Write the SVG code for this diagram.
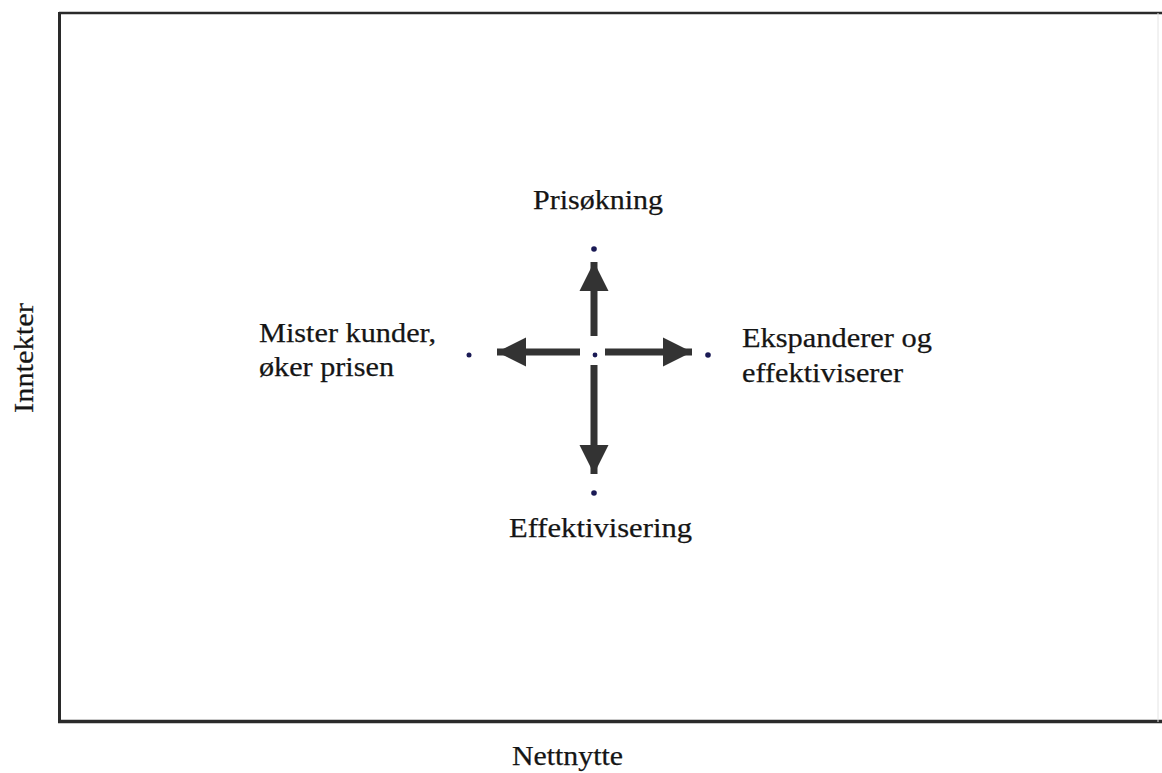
<svg xmlns="http://www.w3.org/2000/svg" width="1162" height="773" viewBox="0 0 1162 773">
  <defs>
    <style>
      .lbl { font-family: "Liberation Serif", "Times New Roman", serif; font-size: 28px; fill: #151515; stroke: #151515; stroke-width: 0.25; }
      .axis { stroke: #2a2a2a; fill: none; }
      .shaft { stroke: #333; stroke-width: 7; fill: none; }
      .dot { fill: #1a1a55; }
    </style>
    <marker id="head" viewBox="0 0 10 10" refX="10" refY="5" markerWidth="4.2" markerHeight="4.2" markerUnits="strokeWidth" orient="auto">
      <path d="M0,0 L10,5 L0,10 Z" fill="#333"/>
    </marker>
  </defs>

  <rect width="1162" height="773" fill="#ffffff"/>

  <!-- plot frame -->
  <g id="frame">
    <line class="axis" x1="59" y1="13" x2="1162" y2="13" stroke-width="2.5" stroke="#555"/>
    <line class="axis" x1="59.5" y1="12" x2="59.5" y2="723" stroke-width="3"/>
    <line class="axis" x1="58" y1="721.5" x2="1162" y2="721.5" stroke-width="3.5" stroke="#1a1a1a"/>
    <line x1="1158" y1="13" x2="1158" y2="722" stroke="#e4e4e4" stroke-width="1"/>
  </g>

  <!-- axis titles -->
  <g id="axis-x"><text class="lbl" x="512" y="765" textLength="111" lengthAdjust="spacingAndGlyphs">Nettnytte</text></g>
  <g id="axis-y"><text class="lbl" transform="translate(33,413) rotate(-90)" x="0" y="0" textLength="110" lengthAdjust="spacingAndGlyphs">Inntekter</text></g>

  <!-- arrows from the centre point -->
  <g id="connectors">
    <line class="shaft" x1="594" y1="336" x2="594" y2="262" marker-end="url(#head)"/>
    <line class="shaft" x1="594" y1="365" x2="594" y2="474" marker-end="url(#head)"/>
    <line class="shaft" x1="580" y1="352" x2="497" y2="352" marker-end="url(#head)"/>
    <line class="shaft" x1="605" y1="352" x2="692" y2="352" marker-end="url(#head)"/>
  </g>

  <g id="center"><circle class="dot" cx="595" cy="355" r="2.4"/></g>

  <g id="top">
    <circle class="dot" cx="594" cy="249" r="2.8"/>
    <text class="lbl" x="533" y="209" textLength="130" lengthAdjust="spacingAndGlyphs">Prisøkning</text>
  </g>

  <g id="bottom">
    <circle class="dot" cx="594" cy="493" r="2.8"/>
    <text class="lbl" x="509" y="537" textLength="183" lengthAdjust="spacingAndGlyphs">Effektivisering</text>
  </g>

  <g id="left">
    <circle class="dot" cx="469" cy="355" r="2.5"/>
    <text class="lbl" x="259" y="342" textLength="177" lengthAdjust="spacingAndGlyphs">Mister kunder,</text>
    <text class="lbl" x="259" y="376" textLength="135" lengthAdjust="spacingAndGlyphs">øker prisen</text>
  </g>

  <g id="right">
    <circle class="dot" cx="708" cy="355" r="2.8"/>
    <text class="lbl" x="742" y="347" textLength="190" lengthAdjust="spacingAndGlyphs">Ekspanderer og</text>
    <text class="lbl" x="742" y="382" textLength="161" lengthAdjust="spacingAndGlyphs">effektiviserer</text>
  </g>
</svg>
